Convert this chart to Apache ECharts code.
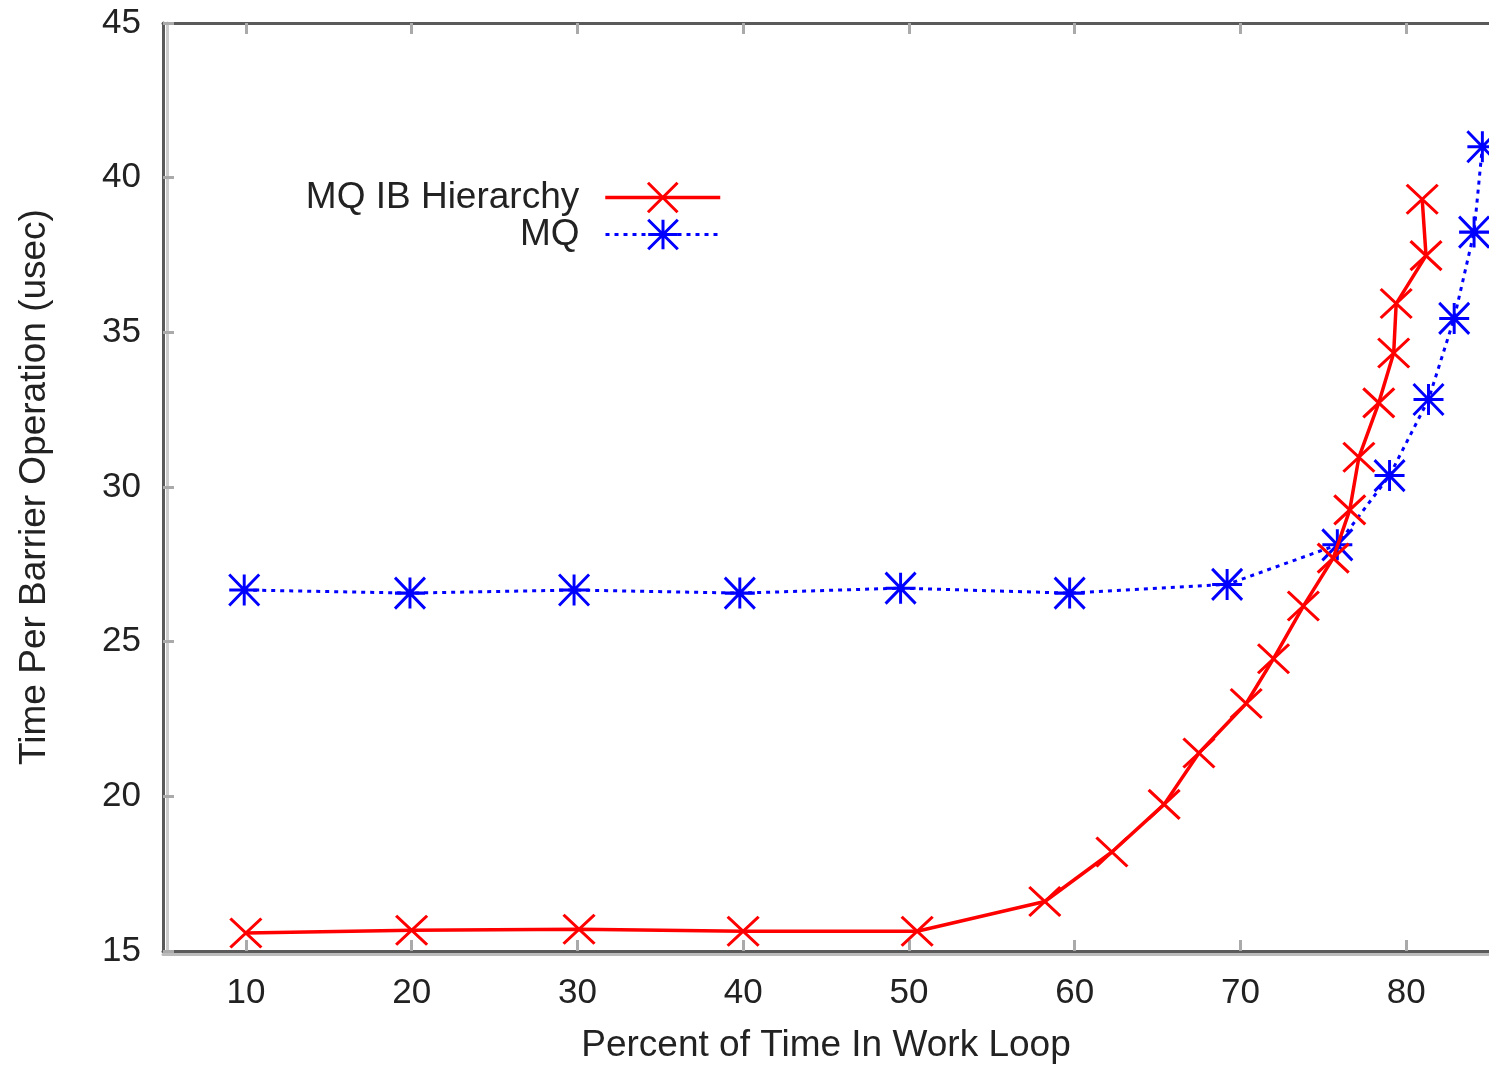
<!DOCTYPE html>
<html>
<head>
<meta charset="utf-8">
<script src="https://cdn.jsdelivr.net/npm/echarts@6/dist/echarts.min.js"></script>
<style>
html,body{margin:0;padding:0;background:#fff;}
#chart{width:1489px;height:1069px;}
</style>
</head>
<body>
<div id="chart"></div>
<script>
const xTickValues = [10, 20, 30, 40, 50, 60, 70, 80];
const yTickValues = [15, 20, 25, 30, 35, 40, 45];

const hierName = 'MQ IB Hierarchy';
const hierX = [10.0, 20.0, 30.1, 40.0, 50.5, 58.2, 62.25, 65.4, 67.5, 70.35, 72.0, 73.8, 75.6, 76.6, 77.15, 78.35, 79.25, 79.4, 81.2, 80.97];
const hierY = [15.58, 15.67, 15.70, 15.64, 15.64, 16.6, 18.2, 19.74, 21.4, 23.0, 24.45, 26.15, 27.7, 29.26, 30.96, 32.72, 34.33, 35.93, 37.48, 39.3];

const mqName = 'MQ';
const mqX = [9.9, 19.9, 29.8, 39.8, 49.5, 59.7, 69.2, 75.85, 79.0, 81.35, 82.9, 84.1, 84.6];
const mqY = [26.67, 26.57, 26.67, 26.57, 26.73, 26.57, 26.85, 28.13, 30.37, 32.83, 35.45, 38.24, 41.0];

const pairs = (xs, ys) => xs.map((x, i) => [x, ys[i]]);

const FONT = 'Liberation Sans';
const TXT = '#222';
const symX = 'path://M0,0L20,20M20,0L0,20';
const symStar = 'path://M0,0L20,20M20,0L0,20M10,0L10,20M0,10L20,10';

const chart = echarts.init(document.getElementById('chart'), null, {renderer: 'canvas'});

const axisLineStyle = {color: '#5a5a5a', width: 3};
const tickStyle = {color: '#aaaaaa', width: 3};

const option = {
  animation: false,
  backgroundColor: '#ffffff',
  grid: {left: 163, right: -8, top: 23, bottom: 112, containLabel: false},
  xAxis: [{
    type: 'value', position: 'bottom', min: 5, max: 85,
    axisLine: {show: true, onZero: false, lineStyle: Object.assign({shadowColor: '#bbbbbb', shadowOffsetY: 3}, axisLineStyle)},
    axisTick: {show: true, inside: true, length: 11, customValues: xTickValues, lineStyle: tickStyle},
    axisLabel: {show: true, customValues: xTickValues, fontFamily: FONT, fontSize: 35, color: TXT, margin: 25},
    splitLine: {show: false},
    name: 'Percent of Time In Work Loop', nameLocation: 'middle', nameGap: 76,
    nameTextStyle: {fontFamily: FONT, fontSize: 37, color: TXT}
  }, {
    type: 'value', position: 'top', min: 5, max: 85,
    axisLine: {show: true, onZero: false, lineStyle: axisLineStyle},
    axisTick: {show: true, inside: true, length: 11, customValues: xTickValues, lineStyle: tickStyle},
    axisLabel: {show: false},
    splitLine: {show: false}
  }],
  yAxis: [{
    type: 'value', position: 'left', min: 15, max: 45, interval: 5,
    axisLine: {show: true, onZero: false, lineStyle: Object.assign({shadowColor: '#cccccc', shadowOffsetX: 4}, axisLineStyle)},
    axisTick: {show: true, inside: true, length: 11, lineStyle: tickStyle},
    axisLabel: {show: true, fontFamily: FONT, fontSize: 35, color: TXT, margin: 22},
    splitLine: {show: false},
    name: 'Time Per Barrier Operation (usec)', nameLocation: 'middle', nameGap: 110, nameRotate: 90,
    nameTextStyle: {fontFamily: FONT, fontSize: 37, color: TXT}
  }],
  legend: [{
    data: [hierName], orient: 'vertical', align: 'right', right: 767, top: 179,
    padding: 0, itemWidth: 115, itemHeight: 37, selectedMode: false,
    textStyle: {fontFamily: FONT, fontSize: 37, color: TXT, padding: [0, 21, 0, 0]},
    lineStyle: {width: 3.5}, itemStyle: {borderWidth: 3}
  }, {
    data: [mqName], orient: 'vertical', align: 'right', right: 767, top: 216,
    padding: 0, itemWidth: 115, itemHeight: 37, selectedMode: false,
    textStyle: {fontFamily: FONT, fontSize: 37, color: TXT, padding: [0, 21, 0, 0]},
    lineStyle: {width: 3}, itemStyle: {borderWidth: 3}
  }],
  series: [{
    name: hierName, type: 'line', xAxisIndex: 0, yAxisIndex: 0,
    data: pairs(hierX, hierY),
    symbol: symX, symbolSize: [31, 29],
    lineStyle: {color: '#ff0000', width: 3.5, type: 'solid'},
    itemStyle: {color: '#ff0000', borderColor: '#ff0000', borderWidth: 3},
    z: 3
  }, {
    name: mqName, type: 'line', xAxisIndex: 0, yAxisIndex: 0,
    data: pairs(mqX, mqY),
    symbol: symStar, symbolSize: [30, 31],
    lineStyle: {color: '#0000ff', width: 3, type: [4, 5]},
    itemStyle: {color: '#0000ff', borderColor: '#0000ff', borderWidth: 3},
    z: 2
  }]
};
chart.setOption(option);
</script>
</body>
</html>
